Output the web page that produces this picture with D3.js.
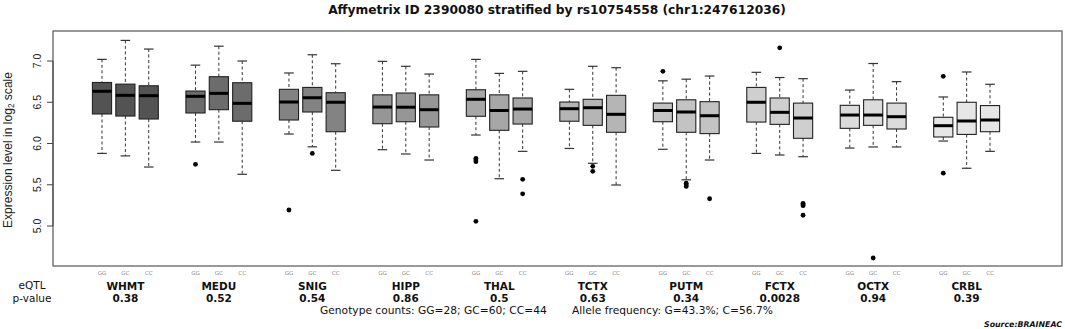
<!DOCTYPE html>
<html>
<head>
<meta charset="utf-8">
<script src="https://cdn.jsdelivr.net/npm/d3@7"></script>
<style>
  html, body { margin: 0; padding: 0; background: #fff; }
  svg { display: block; }
</style>
</head>
<body>
<svg id="chart" width="1065" height="329"></svg>
<script>
// ---------------- data ----------------
const regions = ["WHMT","MEDU","SNIG","HIPP","THAL","TCTX","PUTM","FCTX","OCTX","CRBL"];
const pValues = ["0.38","0.52","0.54","0.86","0.5","0.63","0.34","0.0028","0.94","0.39"];
const genotypes = ["GG","GC","CC"];
const yTicks = [5.0, 5.5, 6.0, 6.5, 7.0];

// per box (region x genotype, in order)
const lowerWhisker = [5.88,5.85,5.715, 6.018,6.018,5.627, 6.115,5.96,5.675, 5.925,5.873,5.80, 6.103,5.573,5.905,
                      5.94,5.76,5.497, 5.93,5.56,5.80, 5.88,5.861,5.84, 5.945,5.958,5.958, 6.03,5.70,5.905];
const lowerQuartile = [6.358,6.333,6.297, 6.37,6.41,6.27, 6.285,6.382,6.143, 6.24,6.264,6.20, 6.33,6.16,6.236,
                      6.27,6.22,6.136, 6.264,6.136,6.12, 6.26,6.232,6.063, 6.184,6.22,6.176, 6.079,6.11,6.143];
const medians = [6.633,6.584,6.58, 6.572,6.608,6.487, 6.503,6.555,6.50, 6.442,6.44,6.41, 6.536,6.40,6.418,
                 6.422,6.434,6.354, 6.40,6.382,6.337, 6.50,6.378,6.309, 6.345,6.345,6.325, 6.216,6.273,6.285];
const upperQuartile = [6.74,6.72,6.70, 6.636,6.81,6.737, 6.657,6.68,6.616, 6.59,6.612,6.59, 6.652,6.59,6.552,
                      6.503,6.536,6.584, 6.49,6.53,6.507, 6.68,6.552,6.49, 6.463,6.53,6.49, 6.318,6.50,6.46];
const upperWhisker = [7.02,7.25,7.145, 6.95,7.18,7.0, 6.855,7.076,6.967, 6.996,6.936,6.842, 7.02,6.85,6.875,
                      6.657,6.936,6.919, 6.76,6.78,6.818, 6.863,6.80,6.786, 6.648,6.97,6.75, 6.564,6.867,6.718];
// outliers: [box index, value]
const outliers = [[3,5.748],[6,5.194],[7,5.88],[12,5.82],[12,5.80],[12,5.78],[12,5.057],[14,5.566],[14,5.39],
                  [16,5.724],[16,5.663],[18,6.875],[19,5.518],[19,5.50],[19,5.48],[20,5.33],[22,7.16],
                  [23,5.275],[23,5.26],[23,5.246],[23,5.13],[25,4.612],[27,6.814],[27,5.64]];

const titleText = "Affymetrix ID 2390080 stratified by rs10754558 (chr1:247612036)";
const genotypeCountsText = "Genotype counts: GG=28; GC=60; CC=44";
const alleleFreqText = "Allele frequency: G=43.3%; C=56.7%";
const sourceText = "Source:BRAINEAC";

// ---------------- styles ----------------
const fills = ["#535353","#6c6c6c","#838383","#969696","#a7a7a7","#b5b5b5","#c3c3c3","#cfcfcf","#dbdbdb","#e6e6e6"];

// ---------------- layout ----------------
const svg = d3.select("#chart");
const plot = {left: 53, right: 1062, top: 31, bottom: 266};

const boxes = medians.map((m, i) => ({
  i, group: Math.floor(i / 3), geno: i % 3,
  slot: Math.floor(i / 3) * 4 + (i % 3),
  lo: lowerWhisker[i], q1: lowerQuartile[i], med: m, q3: upperQuartile[i], hi: upperWhisker[i]
}));

const x = d3.scaleLinear().domain([-2.097, 41.08]).range([plot.left, plot.right]);
const y = d3.scaleLinear().domain([4.515, 7.364]).range([plot.bottom, plot.top]);
const step = x(1) - x(0);
const boxW = step * 0.82;
const capW = boxW / 2;

function fitText(sel, target) {
  const node = sel.node();
  const fs = parseFloat(sel.attr("font-size"));
  const w = node.getComputedTextLength();
  if (w > 0) sel.attr("font-size", (fs * target / w).toFixed(2));
}

// title
const title = svg.append("text")
  .attr("x", 557).attr("y", 14)
  .attr("text-anchor", "middle")
  .attr("font-family", "DejaVu Sans").attr("font-weight", "bold")
  .attr("font-size", 12).attr("fill", "#111")
  .text(titleText);
fitText(title, 458);

// frame
svg.append("rect")
  .attr("x", plot.left).attr("y", plot.top)
  .attr("width", plot.right - plot.left).attr("height", plot.bottom - plot.top)
  .attr("fill", "none").attr("stroke", "#555").attr("stroke-width", 1.2);

// y axis (R style: line spans ticks only)
const yAxis = svg.append("g");
yAxis.append("line")
  .attr("x1", plot.left).attr("x2", plot.left)
  .attr("y1", y(d3.min(yTicks))).attr("y2", y(d3.max(yTicks)))
  .attr("stroke", "#444");
yAxis.selectAll("line.tick").data(yTicks).join("line")
  .attr("class", "tick")
  .attr("x1", plot.left - 6).attr("x2", plot.left)
  .attr("y1", d => y(d)).attr("y2", d => y(d))
  .attr("stroke", "#444");
yAxis.selectAll("text").data(yTicks).join("text")
  .attr("transform", d => `translate(41,${y(d)}) rotate(-90)`)
  .attr("text-anchor", "middle")
  .attr("font-family", "Liberation Sans").attr("font-size", 10.5).attr("fill", "#222")
  .text(d => d3.format(".1f")(d));

const ylab = svg.append("text")
  .attr("transform", `translate(12,150) rotate(-90)`)
  .attr("text-anchor", "middle")
  .attr("font-family", "Liberation Sans").attr("font-size", 11).attr("fill", "#222");
ylab.append("tspan").text("Expression level in log");
ylab.append("tspan").attr("font-size", 7.5).attr("dy", 2).text("2");
ylab.append("tspan").attr("dy", -2).text(" scale");
{
  const w = ylab.node().getBBox().width;
  const k = 156 / w;
  ylab.attr("font-size", (11 * k).toFixed(2));
  ylab.select("tspan:nth-child(2)").attr("font-size", (7.5 * k).toFixed(2));
}

// boxes
const g = svg.append("g");
const bx = g.selectAll("g.box").data(boxes).join("g").attr("class", "box");

// whiskers (dashed)
bx.append("line")
  .attr("x1", d => x(d.slot)).attr("x2", d => x(d.slot))
  .attr("y1", d => y(d.hi)).attr("y2", d => y(d.q3))
  .attr("stroke", "#333").attr("stroke-dasharray", "3,2.5");
bx.append("line")
  .attr("x1", d => x(d.slot)).attr("x2", d => x(d.slot))
  .attr("y1", d => y(d.q1)).attr("y2", d => y(d.lo))
  .attr("stroke", "#333").attr("stroke-dasharray", "3,2.5");
// staples
bx.append("line")
  .attr("x1", d => x(d.slot) - capW / 2).attr("x2", d => x(d.slot) + capW / 2)
  .attr("y1", d => y(d.hi)).attr("y2", d => y(d.hi))
  .attr("stroke", "#333").attr("stroke-width", 1.2);
bx.append("line")
  .attr("x1", d => x(d.slot) - capW / 2).attr("x2", d => x(d.slot) + capW / 2)
  .attr("y1", d => y(d.lo)).attr("y2", d => y(d.lo))
  .attr("stroke", "#333").attr("stroke-width", 1.2);
// box
bx.append("rect")
  .attr("x", d => x(d.slot) - boxW / 2).attr("width", boxW)
  .attr("y", d => y(d.q3)).attr("height", d => y(d.q1) - y(d.q3))
  .attr("fill", d => fills[d.group]).attr("stroke", "#222").attr("stroke-width", 1.1);
// median
bx.append("line")
  .attr("x1", d => x(d.slot) - boxW / 2).attr("x2", d => x(d.slot) + boxW / 2)
  .attr("y1", d => y(d.med)).attr("y2", d => y(d.med))
  .attr("stroke", "#000").attr("stroke-width", 3);

// outliers
g.selectAll("circle").data(outliers).join("circle")
  .attr("cx", d => x(boxes[d[0]].slot)).attr("cy", d => y(d[1]))
  .attr("r", 2.4).attr("fill", "#000");

// genotype labels
svg.selectAll("text.geno").data(boxes).join("text")
  .attr("class", "geno")
  .attr("x", d => x(d.slot)).attr("y", 275)
  .attr("text-anchor", "middle")
  .attr("font-family", "DejaVu Sans").attr("font-size", 5.5).attr("fill", "#888")
  .text(d => genotypes[d.geno]);

// region names and p-values
svg.selectAll("text.region").data(regions).join("text")
  .attr("class", "region")
  .attr("x", (d, i) => x(i * 4 + 1)).attr("y", 289.5)
  .attr("text-anchor", "middle")
  .attr("font-family", "DejaVu Sans").attr("font-weight", "bold")
  .attr("font-size", 10.5).attr("fill", "#111")
  .text(d => d);
svg.selectAll("text.pval").data(pValues).join("text")
  .attr("class", "pval")
  .attr("x", (d, i) => x(i * 4 + 1)).attr("y", 302)
  .attr("text-anchor", "middle")
  .attr("font-family", "DejaVu Sans").attr("font-weight", "bold")
  .attr("font-size", 10.5).attr("fill", "#111")
  .text(d => d);

svg.append("text").attr("x", 32).attr("y", 289).attr("text-anchor", "middle")
  .attr("font-family", "DejaVu Sans").attr("font-size", 10.5).attr("fill", "#111").text("eQTL");
svg.append("text").attr("x", 32).attr("y", 301.5).attr("text-anchor", "middle")
  .attr("font-family", "DejaVu Sans").attr("font-size", 10.5).attr("fill", "#111").text("p-value");

const gc = svg.append("text").attr("x", 320).attr("y", 314)
  .attr("font-family", "DejaVu Sans").attr("font-size", 11).attr("fill", "#111").text(genotypeCountsText);
fitText(gc, 227);
const af = svg.append("text").attr("x", 572).attr("y", 314)
  .attr("font-family", "DejaVu Sans").attr("font-size", 11).attr("fill", "#111").text(alleleFreqText);
fitText(af, 201);

const src = svg.append("text").attr("x", 1062).attr("y", 327).attr("text-anchor", "end")
  .attr("font-family", "DejaVu Sans").attr("font-style", "italic").attr("font-weight", "bold")
  .attr("font-size", 8).attr("fill", "#111").text(sourceText);
fitText(src, 78);
</script>
</body>
</html>
